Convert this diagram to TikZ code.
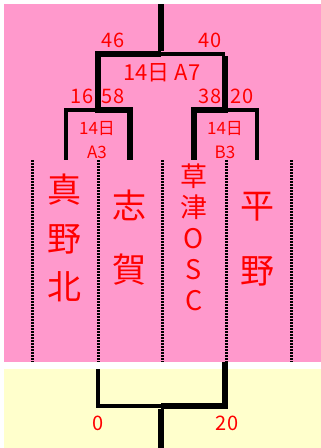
\documentclass[tikz,border=0pt]{standalone}
\usepackage{fontspec}
\setmainfont{Noto Sans CJK JP}

\definecolor{bgpink}{HTML}{FF99CC}
\definecolor{bgyellow}{HTML}{FFFFCC}

\tikzset{
  win/.style={line width=6.5pt},
  lose/.style={line width=3.5pt},
  lane/.style={line width=3pt, dash pattern=on 2pt off 1pt},
  score/.style={text=red, inner sep=0pt, anchor=base, font=\fontsize{20}{20}\selectfont},
  game/.style={text=red, inner sep=0pt, align=center},
  team/.style={text=red, inner sep=0pt, align=center}
}

\begin{document}
\begin{tikzpicture}[x=1pt, y=-1pt]
  \useasboundingbox (0,0) rectangle (321,448);
  \fill[bgpink] (4,4) rectangle (321,362);
  \fill[bgyellow] (4,369) rectangle (321,448);

  % lanes
  \foreach \x in {32,98,162,226,291}
    \draw[lane] (\x,160) -- (\x,362);

  % bracket points
  \coordinate (champ) at (161,4);
  \coordinate (final) at (161,54);
  \coordinate (fl) at (98,54);
  \coordinate (fr) at (225,54);
  \coordinate (sl) at (98,110);
  \coordinate (sr) at (225,110);
  \coordinate (sl1) at (66,110);
  \coordinate (sl2) at (130,110);
  \coordinate (sr1) at (194,110);
  \coordinate (sr2) at (257,110);

  % teams
  \node[team, font=\fontsize{34}{48.5}\selectfont] (manokita) at (65,238) {真\\野\\北};
  \node[team, font=\fontsize{34}{64}\selectfont] (shiga) at (129,238) {志\\賀};
  \node[team, font=\fontsize{27}{31}\selectfont] (kusatsu) at (194,237) {草\\津\\O\\S\\C};
  \node[team, font=\fontsize{34}{65}\selectfont] (hirano) at (257,239.5) {平\\野};

  \coordinate (t1) at (66,160);
  \coordinate (t2) at (130,160);
  \coordinate (t3) at (194,160);
  \coordinate (t4) at (257,160);

  \draw[win] (champ) -- ([yshift=3pt]final);
  \draw[win] (final) -- (fl) -- (sl) -- (sl2) -- (t2);
  \draw[lose] (final) -- (fr);
  \draw[win] ([yshift=-2pt]fr) -- (sr) -- (sr1) -- (t3);
  \draw[lose] (sl) -- (sl1) -- (t1);
  \draw[lose] (sr) -- (sr2) -- (t4);

  % games
  \node[game, font=\fontsize{22}{22}\selectfont, anchor=base] (a7) at (162,80) {14日\hspace{5pt}A7};
  \node[game, font=\fontsize{17}{24}\selectfont] (a3) at (97,140.5) {14日\\A3};
  \node[game, font=\fontsize{17}{24}\selectfont] (b3) at (225,140.5) {14日\\B3};

  % scores
  \node[score] (s46) at (113,47) {46};
  \node[score] (s40) at (210,47) {40};
  \node[score] (s16) at (82,103) {16};
  \node[score] (s58) at (113,103) {58};
  \node[score] (s38) at (210,103) {38};
  \node[score] (s20) at (242,103) {20};

  % third place
  \coordinate (bl) at (98,369);
  \coordinate (br) at (225,362);
  \coordinate (bml) at (98,406);
  \coordinate (bmr) at (225,406);
  \coordinate (bm) at (161,406);
  \coordinate (bbot) at (161,448);
  \draw[lose] (bl) -- (bml) -- (bm);
  \draw[win] (br) -- (bmr) -- (bm);
  \draw[win] ([yshift=-3pt]bm) -- (bbot);
  \node[score] (b0) at (98,430) {0};
  \node[score] (b20) at (227,430) {20};
\end{tikzpicture}
\end{document}
